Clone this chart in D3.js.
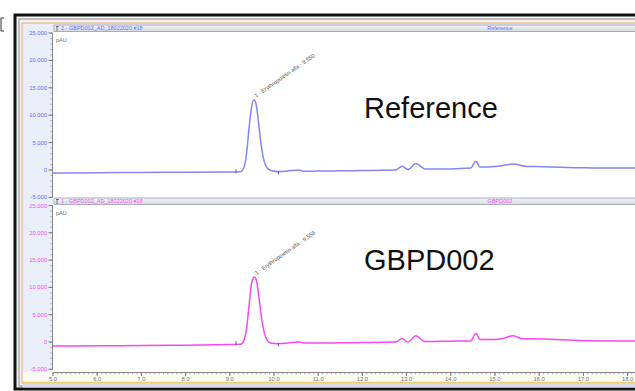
<!DOCTYPE html>
<html>
<head>
<meta charset="utf-8">
<script src="https://cdnjs.cloudflare.com/ajax/libs/d3/7.8.5/d3.min.js"></script>
<style>
	body { margin: 0; background: #fff; }
	svg { display: block; font-family: "Liberation Sans", Arial, sans-serif; }
</style>
</head>
<body>
<div class="chart"></div>
<script>

// retention times (min) and signals (µAU)
var refTime = [5.0, 6.0, 7.0, 8.0, 9.0, 9.25, 9.32, 9.38, 9.44, 9.50, 9.55, 9.60, 9.66, 9.72, 9.78, 9.85, 9.95, 10.1, 10.3, 10.55, 10.7, 11.0, 11.5, 12.0, 12.5, 12.75, 12.9, 13.03, 13.21, 13.42, 14.0, 14.45, 14.57, 14.66, 15.0, 15.2, 15.41, 15.72, 16.09, 17.0, 18.2];
var refValue = [-550, -500, -450, -400, -350, -300, 500, 3000, 8000, 11800, 12800, 11800, 8000, 4000, 1500, 300, -150, -300, -200, 0, -250, -200, -150, -100, -50, 0, 700, 100, 1200, 200, 200, 350, 1600, 550, 650, 850, 1100, 650, 600, 400, 350];

var smpTime = [5.0, 6.0, 7.0, 8.0, 9.0, 9.25, 9.32, 9.38, 9.44, 9.50, 9.56, 9.61, 9.67, 9.73, 9.79, 9.86, 9.95, 10.1, 10.3, 10.55, 10.7, 11.0, 11.5, 12.0, 12.5, 12.75, 12.9, 13.03, 13.21, 13.40, 14.0, 14.45, 14.57, 14.66, 15.0, 15.2, 15.41, 15.62, 16.09, 17.0, 18.2];
var smpValue = [-750, -700, -650, -580, -470, -420, 300, 2500, 7000, 11000, 11900, 11000, 7500, 3800, 1400, 200, -250, -300, -200, 0, -200, -200, -150, -100, -50, 0, 650, 0, 1150, 100, 150, 200, 1600, 450, 450, 700, 1150, 600, 550, 250, 180];

// integration start / end markers
var markerTime = [9.14, 10.1];

// tick labels
var yTicks = [-5000, 0, 5000, 10000, 15000, 20000, 25000];
var xTicks = [5, 6, 7, 8, 9, 10, 11, 12, 13, 14, 15, 16, 17, 18];

var width = 635,
	height = 391;

var svg = d3.select(".chart").append("svg")
	.attr("width", width)
	.attr("height", height);

// frame and window background
svg.append("rect").attr("x", 15).attr("y", 15).attr("width", 640).attr("height", 374)
	.attr("fill", "#f4f4f6").attr("stroke", "#111").attr("stroke-width", 3);
svg.append("rect").attr("x", 19).attr("y", 19).attr("width", 640).attr("height", 367)
	.attr("fill", "none").attr("stroke", "#888").attr("stroke-width", 1);
svg.append("rect").attr("x", 22).attr("y", 23).attr("width", 620).attr("height", 360)
	.attr("fill", "#e9eef9").attr("stroke", "#e8b77a").attr("stroke-width", 1.2);
svg.append("rect").attr("x", 53).attr("y", 31).attr("width", 600).attr("height", 341)
	.attr("fill", "#fff");
svg.append("rect").attr("x", 23).attr("y", 372).attr("width", 620).attr("height", 10)
	.attr("fill", "#fbfbf4");
svg.append("line").attr("x1", 22).attr("x2", 640).attr("y1", 382.5).attr("y2", 382.5)
	.attr("stroke", "#e9cf6a").attr("stroke-width", 1.5);
svg.append("rect").attr("x", 23).attr("y", 383.5).attr("width", 620).attr("height", 4)
	.attr("fill", "#dcd9ec");

// small bracket at top left
svg.append("path").attr("d", "M4,18 H1 V31 H4").attr("fill", "none").attr("stroke", "#333").attr("stroke-width", 1);

var x = d3.scaleLinear().domain([5, 18.2]).range([53, 636.4]);

var panels = [
	{ time: refTime, value: refValue, top: 33, zero: 170, color: "#8585f7", label: "#6b6bf2",
	  head: "2 - GBPD002_AD_18022020 #18", name: "Reference", big: "Reference", bigY: 118,
	  peak: "1 - Erythropoietin alfa - 9.550", headY: 25 },
	{ time: smpTime, value: smpValue, top: 205.5, zero: 342, color: "#f44af0", label: "#f050f0",
	  head: "1 - GBPD002_AD_18022020 #18", name: "GBPD002", big: "GBPD002", bigY: 270,
	  peak: "1 - Erythropoietin alfa - 9.558", headY: 198 }
];

function fmt(v) {
	if (v == 0) return "0";
	return (v / 1000).toFixed(3);
}

panels.forEach(function(p) {
	var y = d3.scaleLinear().domain([0, 25000]).range([p.zero, p.top]);

	// header bar
	var hg = svg.append("linearGradient").attr("id", "hb" + p.headY).attr("x1", 0).attr("x2", 0).attr("y1", 0).attr("y2", 1);
	hg.append("stop").attr("offset", 0).attr("stop-color", "#f2f4f8");
	hg.append("stop").attr("offset", 1).attr("stop-color", "#d6dae2");
	svg.append("rect").attr("x", 54).attr("y", p.headY).attr("width", 600).attr("height", 6.5)
		.attr("fill", "url(#hb" + p.headY + ")").attr("stroke", "#9a9ea8").attr("stroke-width", 0.8);
	svg.append("path").attr("d", "M57," + (p.headY + 1) + " v5 M56," + (p.headY + 1.5) + " h3")
		.attr("stroke", "#555").attr("stroke-width", 0.8);
	svg.append("text").attr("x", 61).attr("y", p.headY + 5.3)
		.attr("font-size", 5.5).attr("fill", p.label).text(p.head);
	svg.append("text").attr("x", 500).attr("y", p.headY + 5.3).attr("text-anchor", "middle")
		.attr("font-size", 5.5).attr("fill", p.label).text(p.name);

	// y axis with minor ticks
	var minor = d3.range(-5000, 25001, 1000);
	svg.append("line").attr("x1", 52.5).attr("x2", 52.5).attr("y1", y(25000)).attr("y2", y(-5000))
		.attr("stroke", "#8a8a8a");
	svg.selectAll(null).data(minor).enter().append("line")
		.attr("x1", 50.5).attr("x2", 52.5)
		.attr("y1", function(d) { return y(d); }).attr("y2", function(d) { return y(d); })
		.attr("stroke", "#8a8a8a").attr("stroke-width", 0.7);
	svg.selectAll(null).data(yTicks).enter().append("line")
		.attr("x1", 48.5).attr("x2", 52.5)
		.attr("y1", function(d) { return y(d); }).attr("y2", function(d) { return y(d); })
		.attr("stroke", "#777");
	svg.selectAll(null).data(yTicks).enter().append("text")
		.attr("x", 47).attr("y", function(d) { return y(d) + 2; })
		.attr("text-anchor", "end").attr("font-size", 5.8).attr("fill", p.label)
		.text(fmt);

	svg.append("text").attr("x", 56).attr("y", p.top + 9)
		.attr("font-size", 5.5).attr("fill", "#666").text("pAU");

	// trace
	var line = d3.line()
		.x(function(d, i) { return x(p.time[i]); })
		.y(function(d) { return y(d); })
		.curve(d3.curveMonotoneX);
	svg.append("path").datum(p.value)
		.attr("d", line)
		.attr("fill", "none").attr("stroke", p.color).attr("stroke-width", 1.5);

	// integration markers
	svg.selectAll(null).data(markerTime).enter().append("line")
		.attr("x1", function(d) { return x(d); }).attr("x2", function(d) { return x(d); })
		.attr("y1", function(d, i) { return i == 0 ? y(-400) - 3 : y(-300) - 1; })
		.attr("y2", function(d, i) { return i == 0 ? y(-400) + 1 : y(-300) + 3; })
		.attr("stroke", "#5a5ae0").attr("stroke-width", 1);

	// peak label
	var peakIdx = p.value.indexOf(d3.max(p.value));
	var px = x(p.time[peakIdx]) + 2, py = y(p.value[peakIdx]) - 2;
	svg.append("text")
		.attr("transform", "translate(" + px + "," + py + ") rotate(-35)")
		.attr("font-size", 5.6).attr("fill", "#555").text(p.peak);

	// large caption
	svg.append("text").attr("x", 364).attr("y", p.bigY)
		.attr("font-size", 29).attr("fill", "#111").text(p.big);
});

// x axis at the bottom
var xy = 372.5;
svg.append("line").attr("x1", 53).attr("x2", 640).attr("y1", xy).attr("y2", xy).attr("stroke", "#8a8a8a");
svg.selectAll(null).data(d3.range(50, 183, 1)).enter().append("line")
	.attr("x1", function(d) { return x(d / 10); }).attr("x2", function(d) { return x(d / 10); })
	.attr("y1", xy).attr("y2", xy + 1.8)
	.attr("stroke", "#8a8a8a").attr("stroke-width", 0.7);
svg.selectAll(null).data(xTicks).enter().append("line")
	.attr("x1", function(d) { return x(d); }).attr("x2", function(d) { return x(d); })
	.attr("y1", xy).attr("y2", xy + 3.5).attr("stroke", "#777");
svg.selectAll(null).data(xTicks).enter().append("text")
	.attr("x", function(d) { return x(d); }).attr("y", 380.5)
	.attr("text-anchor", "middle").attr("font-size", 5.8).attr("fill", "#707488")
	.text(function(d) { return d.toFixed(1); });

</script>
</body>
</html>
